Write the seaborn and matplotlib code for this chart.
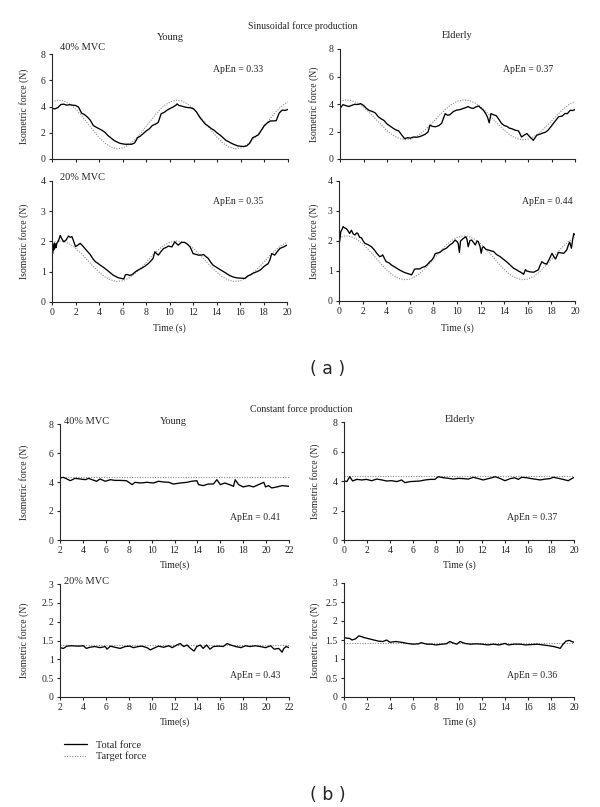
import matplotlib
matplotlib.use("Agg")
import matplotlib.pyplot as plt
import seaborn as sns
import pandas as pd

# ---------------- (a) sinusoidal force production ----------------
sin_target_time = [0, 0.5, 1, 1.5, 2, 2.5, 3, 3.5, 4, 4.5, 5, 5.5, 6, 6.5, 7, 7.5, 8, 8.5, 9, 9.5, 10,
                   10.5, 11, 11.5, 12, 12.5, 13, 13.5, 14, 14.5, 15, 15.5, 16, 16.5, 17, 17.5, 18, 18.5,
                   19, 19.5, 20]
sin_young40_target = [4.35, 4.48, 4.42, 4.19, 3.81, 3.31, 2.75, 2.17, 1.64, 1.20, 0.91, 0.78, 0.84, 1.07,
                      1.45, 1.95, 2.51, 3.09, 3.62, 4.06, 4.35, 4.48, 4.42, 4.19, 3.81, 3.31, 2.75, 2.17,
                      1.64, 1.20, 0.91, 0.78, 0.84, 1.07, 1.45, 1.95, 2.51, 3.09, 3.62, 4.06, 4.35]
sin_elderly40_target = [4.20, 4.30, 4.25, 4.07, 3.77, 3.38, 2.94, 2.49, 2.07, 1.73, 1.50, 1.40, 1.44, 1.63,
                        1.93, 2.32, 2.76, 3.21, 3.63, 3.97, 4.20, 4.30, 4.25, 4.07, 3.77, 3.38, 2.94, 2.49,
                        2.07, 1.73, 1.50, 1.40, 1.44, 1.63, 1.93, 2.32, 2.76, 3.21, 3.63, 3.97, 4.20]
sin_young20_target = [1.97, 2.02, 2.00, 1.92, 1.78, 1.60, 1.39, 1.18, 0.99, 0.83, 0.73, 0.68, 0.70, 0.78,
                      0.92, 1.10, 1.31, 1.52, 1.71, 1.87, 1.97, 2.02, 2.00, 1.92, 1.78, 1.60, 1.39, 1.18,
                      0.99, 0.83, 0.73, 0.68, 0.70, 0.78, 0.92, 1.10, 1.31, 1.52, 1.71, 1.87, 1.97]
sin_elderly20_target = [2.12, 2.17, 2.15, 2.06, 1.91, 1.71, 1.49, 1.26, 1.05, 0.88, 0.76, 0.71, 0.73, 0.82,
                        0.97, 1.17, 1.39, 1.62, 1.83, 2.00, 2.12, 2.17, 2.15, 2.06, 1.91, 1.71, 1.49, 1.26,
                        1.05, 0.88, 0.76, 0.71, 0.73, 0.82, 0.97, 1.17, 1.39, 1.62, 1.83, 2.00, 2.12]

sin_young40_time = [0, 0.25, 0.5, 0.75, 1, 1.25, 1.5, 1.75, 2, 2.25, 2.5, 2.75, 3, 3.25, 3.5, 3.75, 4,
                    4.25, 4.5, 4.75, 5, 5.25, 5.5, 5.75, 6, 6.25, 6.5, 6.75, 7, 7.25, 7.5, 7.75, 8, 8.25,
                    8.5, 8.75, 9, 9.25, 9.5, 9.75, 10, 10.25, 10.5, 10.6, 10.75, 11, 11.25, 11.5, 11.75,
                    12, 12.25, 12.5, 12.75, 13, 13.25, 13.5, 13.75, 14, 14.25, 14.5, 14.75, 15, 15.25,
                    15.5, 15.75, 16, 16.25, 16.5, 16.75, 17, 17.25, 17.5, 17.75, 18, 18.25, 18.5, 18.75,
                    19, 19.25, 19.5, 19.75, 20]
sin_young40_force = [3.85, 3.82, 3.92, 4.15, 4.18, 4.10, 4.14, 4.10, 4.08, 3.95, 3.50, 3.38, 3.20, 2.95,
                     2.55, 2.42, 2.30, 2.18, 2.02, 1.78, 1.60, 1.42, 1.30, 1.20, 1.15, 1.12, 1.13, 1.12,
                     1.22, 1.62, 1.75, 1.95, 2.15, 2.30, 2.55, 2.65, 2.78, 3.45, 3.55, 3.72, 3.85, 3.95,
                     4.10, 4.20, 4.08, 4.03, 3.96, 3.92, 3.90, 3.82, 3.58, 3.20, 2.92, 2.65, 2.50, 2.32,
                     2.18, 1.98, 1.82, 1.62, 1.42, 1.30, 1.18, 1.08, 1.00, 0.97, 0.95, 1.00, 1.20, 1.62,
                     1.72, 1.85, 2.20, 2.55, 2.75, 2.90, 2.90, 2.92, 3.50, 3.72, 3.70, 3.78]

sin_elderly40_time = [0, 0.25, 0.5, 0.75, 1, 1.25, 1.5, 1.75, 2, 2.25, 2.5, 2.75, 3, 3.25, 3.5, 3.75, 4,
                      4.25, 4.5, 4.75, 5, 5.25, 5.5, 5.75, 6, 6.25, 6.5, 6.75, 7, 7.25, 7.5, 7.65, 7.85,
                      8.1, 8.4, 8.65, 8.95, 9.15, 9.35, 9.65, 9.9, 10.25, 10.5, 10.75, 10.9, 11.1, 11.35,
                      11.6, 11.8, 12, 12.2, 12.4, 12.55, 12.7, 12.85, 13.05, 13.3, 13.55, 13.75, 14, 14.2,
                      14.4, 14.6, 14.9, 15.2, 15.45, 15.7, 15.9, 16.15, 16.45, 16.75, 17, 17.3, 17.5,
                      17.7, 17.95, 18.15, 18.4, 18.6, 18.9, 19.15, 19.35, 19.6, 19.8, 20]
sin_elderly40_force = [3.67, 3.95, 3.88, 3.82, 3.90, 3.98, 3.96, 4.03, 3.90, 3.68, 3.52, 3.46, 3.35, 3.08,
                       2.92, 2.80, 2.55, 2.40, 2.25, 2.12, 2.04, 1.75, 1.48, 1.55, 1.52, 1.60, 1.58, 1.62,
                       1.70, 1.80, 1.97, 2.46, 2.38, 2.34, 2.42, 2.60, 3.30, 3.18, 3.22, 3.45, 3.55, 3.60,
                       3.68, 3.75, 3.82, 3.72, 3.68, 3.80, 3.85, 3.70, 3.55, 3.30, 3.05, 2.63, 3.30, 3.22,
                       3.15, 2.85, 2.58, 2.42, 2.38, 2.25, 2.21, 2.10, 2.04, 1.60, 1.75, 1.85, 1.62, 1.36,
                       1.73, 1.80, 1.90, 1.95, 2.09, 2.35, 2.58, 2.85, 3.07, 3.12, 3.31, 3.30, 3.55, 3.52,
                       3.60]

sin_young20_time = [0, 0.05, 0.1, 0.15, 0.2, 0.25, 0.3, 0.35, 0.4, 0.55, 0.7, 0.85, 1, 1.2, 1.4, 1.55,
                    1.7, 1.85, 2, 2.2, 2.4, 2.6, 2.8, 3, 3.25, 3.5, 3.7, 3.9, 4.1, 4.4, 4.7, 4.95, 5.2,
                    5.45, 5.65, 5.9, 6.1, 6.25, 6.4, 6.6, 6.8, 7.1, 7.35, 7.6, 7.9, 8.2, 8.4, 8.6, 8.75,
                    8.9, 9.05, 9.3, 9.5, 9.7, 9.9, 10.2, 10.45, 10.6, 10.75, 11, 11.3, 11.5, 11.75, 11.9,
                    12, 12.2, 12.45, 12.7, 12.9, 13.1, 13.3, 13.5, 13.7, 13.9, 14.15, 14.4, 14.7, 14.9,
                    15.15, 15.4, 15.7, 16, 16.4, 16.7, 16.9, 17.1, 17.3, 17.55, 17.8, 18, 18.2, 18.4,
                    18.55, 18.7, 18.95, 19.2, 19.4, 19.7, 20]
sin_young20_force = [1.90, 1.60, 1.88, 1.72, 1.95, 1.78, 1.92, 1.80, 1.93, 2.02, 2.20, 2.08, 1.99, 2.05,
                     2.18, 2.14, 2.16, 2.00, 1.83, 1.88, 1.94, 1.86, 1.77, 1.68, 1.57, 1.42, 1.33, 1.28,
                     1.22, 1.14, 1.05, 0.97, 0.89, 0.84, 0.80, 0.78, 0.76, 0.90, 0.91, 0.88, 0.90, 1.00,
                     1.06, 1.11, 1.18, 1.27, 1.35, 1.44, 1.66, 1.60, 1.55, 1.68, 1.77, 1.80, 1.85, 1.82,
                     1.99, 1.93, 1.88, 1.97, 1.97, 1.92, 1.82, 1.70, 1.60, 1.58, 1.55, 1.55, 1.57, 1.50,
                     1.44, 1.32, 1.22, 1.17, 1.11, 1.05, 0.98, 0.93, 0.87, 0.83, 0.80, 0.79, 0.78, 0.87,
                     0.90, 0.95, 0.98, 1.02, 1.08, 1.16, 1.22, 1.27, 1.40, 1.60, 1.55, 1.68, 1.77, 1.82,
                     1.88]

sin_elderly20_time = [0, 0.08, 0.15, 0.25, 0.35, 0.45, 0.6, 0.75, 0.9, 1.05, 1.2, 1.35, 1.5, 1.6, 1.75,
                      1.9, 2.05, 2.2, 2.45, 2.75, 3, 3.2, 3.45, 3.6, 3.7, 3.85, 4, 4.2, 4.45, 4.7, 4.9,
                      5.1, 5.3, 5.5, 5.7, 5.95, 6.15, 6.3, 6.4, 6.6, 6.85, 7.05, 7.3, 7.5, 7.7, 7.9, 8.05,
                      8.15, 8.35, 8.55, 8.8, 9.1, 9.4, 9.6, 9.85, 10, 10.1, 10.2, 10.3, 10.55, 10.75,
                      10.85, 10.95, 11.1, 11.25, 11.4, 11.55, 11.7, 11.8, 11.95, 12.05, 12.15, 12.25,
                      12.45, 12.65, 12.9, 13.1, 13.35, 13.65, 13.9, 14.2, 14.5, 14.8, 15, 15.2, 15.45,
                      15.65, 15.8, 15.9, 16.2, 16.5, 16.7, 16.9, 17.05, 17.2, 17.4, 17.6, 17.8, 18.05,
                      18.2, 18.35, 18.6, 18.85, 19.05, 19.3, 19.45, 19.55, 19.7, 19.8, 19.9, 20]
sin_elderly20_force = [1.87, 2.05, 2.31, 2.38, 2.48, 2.44, 2.42, 2.35, 2.25, 2.36, 2.24, 2.20, 2.27, 2.25,
                       2.12, 2.11, 2.00, 1.92, 1.88, 1.81, 1.70, 1.59, 1.48, 1.50, 1.54, 1.42, 1.31, 1.28,
                       1.20, 1.14, 1.09, 1.04, 1.00, 0.96, 0.93, 0.90, 0.87, 0.98, 1.06, 1.07, 1.07, 1.12,
                       1.15, 1.22, 1.31, 1.38, 1.48, 1.58, 1.60, 1.62, 1.70, 1.76, 1.87, 1.92, 2.03, 1.98,
                       1.92, 1.62, 2.00, 2.09, 2.14, 2.05, 1.81, 2.02, 2.03, 1.95, 1.87, 2.00, 1.98, 1.82,
                       1.59, 1.78, 1.81, 1.72, 1.70, 1.67, 1.65, 1.55, 1.48, 1.40, 1.31, 1.20, 1.09, 1.05,
                       1.00, 0.95, 0.89, 1.05, 1.00, 0.97, 0.96, 1.00, 1.04, 1.20, 1.31, 1.25, 1.23, 1.38,
                       1.59, 1.48, 1.40, 1.62, 1.60, 1.59, 1.70, 1.88, 1.96, 1.76, 2.05, 2.25, 2.20]

# ---------------- (b) constant force production ----------------
con_young_span = [2, 22]
con_elderly_span = [0, 20]
con_young40_target = [4.32, 4.32]
con_elderly40_target = [4.31, 4.31]
con_young20_target = [1.38, 1.38]
con_elderly20_target = [1.41, 1.41]

con_young40_time = [2, 2.3, 2.6, 2.9, 3.3, 3.75, 4.2, 4.5, 4.8, 5.2, 5.5, 5.95, 6.4, 6.8, 7.25, 7.8, 8.3,
                    8.55, 9, 9.6, 10.15, 10.6, 11.05, 11.5, 11.9, 12.5, 13.1, 13.5, 13.95, 14.1, 14.5,
                    14.95, 15.4, 15.7, 16, 16.4, 16.9, 17.15, 17.3, 17.6, 18, 18.5, 18.9, 19.35, 19.8,
                    19.95, 20.2, 20.5, 20.95, 21.4, 22]
con_young40_force = [4.28, 4.32, 4.21, 4.09, 4.25, 4.21, 4.16, 4.25, 4.16, 4.05, 4.21, 4.05, 4.16, 4.11,
                     4.11, 4.09, 3.82, 3.98, 3.93, 3.98, 3.93, 4.05, 4.00, 3.98, 3.86, 3.93, 3.98, 4.05,
                     4.09, 3.82, 3.75, 3.86, 3.86, 4.16, 3.82, 3.93, 3.79, 3.70, 4.16, 3.82, 3.66, 3.75,
                     3.66, 3.82, 3.98, 3.66, 3.75, 3.59, 3.66, 3.75, 3.70]

con_elderly40_time = [0, 0.25, 0.5, 0.75, 1.1, 1.55, 1.95, 2.4, 2.85, 3.3, 3.7, 4.15, 4.6, 5, 5.3, 5.75,
                      6.2, 6.6, 7.05, 7.5, 7.9, 8.2, 8.65, 9.1, 9.5, 9.95, 10.4, 10.8, 11.25, 11.7, 12.1,
                      12.55, 12.85, 13.15, 13.55, 14, 14.45, 14.85, 15.15, 15.45, 15.9, 16.3, 16.75,
                      17.05, 17.5, 17.9, 18.2, 18.65, 19.05, 19.5, 19.8, 20]
con_elderly40_force = [4.02, 3.96, 4.29, 4.00, 4.11, 4.07, 4.11, 4.02, 4.13, 4.07, 4.00, 4.02, 3.96, 4.07,
                       3.89, 3.96, 3.98, 4.00, 4.07, 4.11, 4.11, 4.29, 4.22, 4.18, 4.13, 4.18, 4.16, 4.13,
                       4.25, 4.16, 4.07, 4.16, 4.22, 4.29, 4.18, 4.02, 4.16, 4.22, 4.11, 4.25, 4.22, 4.16,
                       4.11, 4.07, 4.13, 4.16, 4.25, 4.18, 4.11, 4.02, 4.16, 4.25]

con_young20_time = [2, 2.3, 2.6, 3, 3.6, 4.05, 4.3, 4.6, 5.05, 5.5, 5.95, 6.1, 6.4, 6.8, 7.25, 7.7, 8.1,
                    8.4, 8.85, 9.15, 9.6, 9.9, 10.15, 10.6, 11.05, 11.5, 11.8, 12.2, 12.5, 12.8, 13.1,
                    13.4, 13.7, 13.95, 14.25, 14.5, 14.8, 15.1, 15.4, 15.85, 16.25, 16.6, 16.9, 17.35,
                    17.8, 18.2, 18.6, 19.05, 19.5, 19.95, 20.4, 20.7, 21.1, 21.4, 21.55, 21.75, 22]
con_young20_force = [1.31, 1.29, 1.35, 1.36, 1.35, 1.36, 1.29, 1.32, 1.34, 1.31, 1.34, 1.27, 1.35, 1.32,
                     1.29, 1.34, 1.35, 1.31, 1.34, 1.35, 1.31, 1.25, 1.29, 1.35, 1.32, 1.36, 1.31, 1.38,
                     1.42, 1.34, 1.38, 1.29, 1.22, 1.34, 1.38, 1.29, 1.38, 1.27, 1.34, 1.35, 1.34, 1.42,
                     1.38, 1.34, 1.31, 1.36, 1.34, 1.36, 1.34, 1.31, 1.36, 1.27, 1.29, 1.19, 1.29, 1.34,
                     1.31]

con_elderly20_time = [0, 0.5, 0.7, 1, 1.3, 1.8, 2.2, 2.6, 3, 3.4, 3.7, 4, 4.5, 5, 5.5, 6, 6.5, 6.7, 7.2,
                      7.6, 8, 8.5, 8.9, 9.2, 9.6, 9.8, 10.1, 10.5, 11, 11.5, 12, 12.5, 13, 13.5, 14, 14.3,
                      14.8, 15.3, 15.8, 16.3, 16.8, 17.3, 17.8, 18.2, 18.6, 18.8, 19, 19.3, 19.6, 19.8, 20]
con_elderly20_force = [1.56, 1.54, 1.50, 1.53, 1.61, 1.56, 1.53, 1.50, 1.47, 1.46, 1.50, 1.44, 1.46, 1.44,
                       1.41, 1.39, 1.40, 1.43, 1.39, 1.39, 1.37, 1.39, 1.40, 1.46, 1.41, 1.39, 1.46, 1.41,
                       1.39, 1.40, 1.39, 1.37, 1.39, 1.37, 1.41, 1.37, 1.39, 1.39, 1.37, 1.38, 1.39, 1.37,
                       1.35, 1.33, 1.30, 1.28, 1.37, 1.47, 1.49, 1.46, 1.44]

W, H = 600, 807
SERIF = ["Liberation Serif", "DejaVu Serif"]

sns.set_style("ticks")
plt.rcParams["font.family"] = SERIF
plt.rcParams["font.size"] = 7
plt.rcParams["axes.linewidth"] = 0.8
plt.rcParams["xtick.major.size"] = 2.5
plt.rcParams["ytick.major.size"] = 2.5
plt.rcParams["xtick.major.width"] = 0.8
plt.rcParams["ytick.major.width"] = 0.8
plt.rcParams["xtick.major.pad"] = 2
plt.rcParams["ytick.major.pad"] = 2

fig = plt.figure(figsize=(W / 100, H / 100), dpi=100)


def box(x0, y0, x1, y1):
    # pixel box (left, top, right, bottom) -> figure fraction rect
    return [x0 / W, 1 - y1 / H, (x1 - x0) / W, (y1 - y0) / H]


def ftext(x, y, s, ha="left", **kw):
    fig.text(x / W, 1 - y / H, s, ha=ha, va="center", **kw)


def panel(rect, t, f, tt, tf, xlim, xticks, ylim, yticks, ylabels,
          ylab_x, xlabel=None, xlab_y=None, apen=None, apen_xy=None, show_x=True):
    x0, y0, x1, y1 = rect
    ax = fig.add_axes(box(*rect))
    target = pd.DataFrame({"time": tt, "force": tf})
    total = pd.DataFrame({"time": t, "force": f})
    sns.lineplot(data=target, x="time", y="force", ax=ax, color="#8c8c8c", lw=0.8,
                 linestyle=(0, (1, 1.3)), estimator=None, sort=False)
    sns.lineplot(data=total, x="time", y="force", ax=ax, color="black", lw=0.95,
                 estimator=None, sort=False)
    ax.set_xlim(*xlim)
    ax.set_ylim(*ylim)
    ax.set_xticks(xticks)
    ax.set_yticks(yticks)
    ax.set_yticklabels(ylabels)
    if show_x:
        ax.set_xticklabels([str(v) for v in xticks])
    else:
        ax.set_xticklabels([])
    sns.despine(ax=ax)
    # y label: centre at ylab_x pixel (anchor is the right edge of rotated text)
    ax.set_ylabel("Isometric force (N)", fontsize=7)
    ax.yaxis.set_label_coords((ylab_x + 4 - x0) / (x1 - x0), 0.5)
    if xlabel:
        ax.set_xlabel(xlabel, fontsize=7)
        ax.xaxis.set_label_coords(0.5, -((xlab_y - 5) - y1) / (y1 - y0))
    else:
        ax.set_xlabel("")
    ax.tick_params(labelsize=7)
    if apen:
        ftext(apen_xy[0], apen_xy[1], apen, fontsize=7)
    return ax


sin_x = [0, 2, 4, 6, 8, 10, 12, 14, 16, 18, 20]
con_young_x = [2, 4, 6, 8, 10, 12, 14, 16, 18, 20, 22]
con_elderly_x = [0, 2, 4, 6, 8, 10, 12, 14, 16, 18, 20]
y8 = [0, 2, 4, 6, 8]
y4 = [0, 1, 2, 3, 4]
y3 = [0, 0.5, 1, 1.5, 2, 2.5, 3]
y3_labels = ["0", "0.5", "1", "1.5", "2", "2.5", "3"]

# (a) sinusoidal
panel((52, 54, 288, 159), sin_young40_time, sin_young40_force, sin_target_time, sin_young40_target,
      (0, 20), sin_x, (0, 8), y8, [str(v) for v in y8], 25,
      apen="ApEn = 0.33", apen_xy=(213, 70), show_x=False)
panel((340, 49, 575, 159), sin_elderly40_time, sin_elderly40_force, sin_target_time, sin_elderly40_target,
      (0, 20), sin_x, (0, 8), y8, [str(v) for v in y8], 315,
      apen="ApEn = 0.37", apen_xy=(503, 70), show_x=False)
panel((52, 181, 287, 302), sin_young20_time, sin_young20_force, sin_target_time, sin_young20_target,
      (0, 20), sin_x, (0, 4), y4, [str(v) for v in y4], 25, xlabel="Time (s)", xlab_y=328,
      apen="ApEn = 0.35", apen_xy=(213, 202))
panel((339, 181, 575, 301), sin_elderly20_time, sin_elderly20_force, sin_target_time, sin_elderly20_target,
      (0, 20), sin_x, (0, 4), y4, [str(v) for v in y4], 315, xlabel="Time (s)", xlab_y=328,
      apen="ApEn = 0.44", apen_xy=(522, 201))

# (b) constant
panel((60, 424, 289, 540), con_young40_time, con_young40_force, con_young_span, con_young40_target,
      (2, 22), con_young_x, (0, 8), y8, [str(v) for v in y8], 25, xlabel="Time(s)", xlab_y=565,
      apen="ApEn = 0.41", apen_xy=(230, 518))
panel((344, 422, 574, 540), con_elderly40_time, con_elderly40_force, con_elderly_span, con_elderly40_target,
      (0, 20), con_elderly_x, (0, 8), y8, [str(v) for v in y8], 316, xlabel="Time (s)", xlab_y=565,
      apen="ApEn = 0.37", apen_xy=(507, 518))
ax_leg = panel((60, 584, 289, 697), con_young20_time, con_young20_force, con_young_span, con_young20_target,
               (2, 22), con_young_x, (0, 3), y3, y3_labels, 25, xlabel="Time(s)", xlab_y=722,
               apen="ApEn = 0.43", apen_xy=(230, 675))
panel((344, 583, 574, 697), con_elderly20_time, con_elderly20_force, con_elderly_span, con_elderly20_target,
      (0, 20), con_elderly_x, (0, 3), y3, y3_labels, 316, xlabel="Time (s)", xlab_y=722,
      apen="ApEn = 0.36", apen_xy=(507, 675))

# headings
ftext(303, 26, "Sinusoidal force production", ha="center", fontsize=7)
ftext(170, 37, "Young", ha="center", fontsize=7.5)
ftext(457, 36, "Elderly", ha="center", fontsize=7.5)
ftext(60, 47, "40% MVC", fontsize=7.5)
ftext(60, 178, "20% MVC", fontsize=7.5)
ftext(328, 369, "( a )", ha="center", fontsize=12.5, family=["DejaVu Sans"])

ftext(301, 409, "Constant force production", ha="center", fontsize=7)
ftext(173, 421, "Young", ha="center", fontsize=7.5)
ftext(460, 420, "Elderly", ha="center", fontsize=7.5)
ftext(64, 421, "40% MVC", fontsize=7.5)
ftext(64, 582, "20% MVC", fontsize=7.5)
ftext(328, 795, "( b )", ha="center", fontsize=12.5, family=["DejaVu Sans"])

# legend
handles = ax_leg.get_lines()[::-1]
fig.legend(handles[:2], ["Total force", "Target force"], loc="upper left",
           bbox_to_anchor=(55 / W, 1 - 731 / H), frameon=False, fontsize=7.5,
           handlelength=2.2, handletextpad=0.8, labelspacing=0.2)

fig.savefig("out.png", dpi=100)
